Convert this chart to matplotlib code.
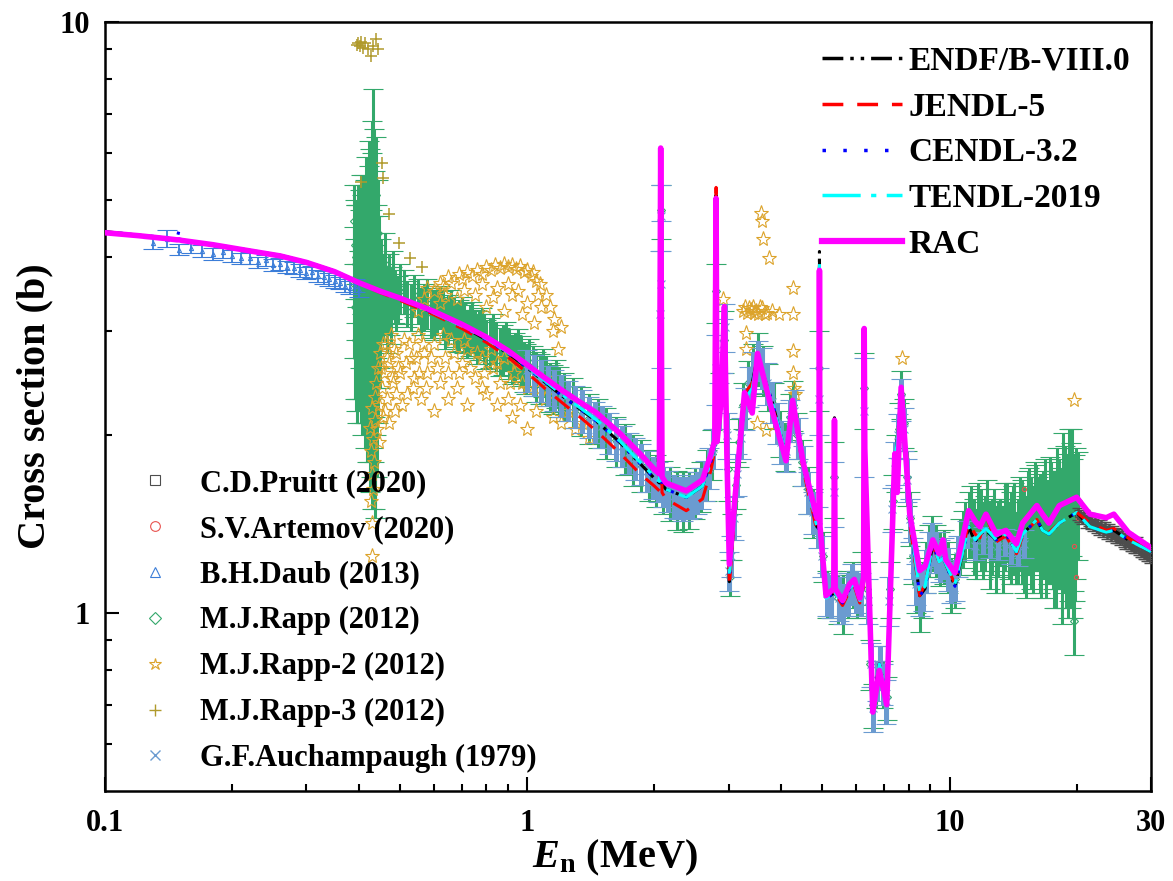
import matplotlib
matplotlib.use('Agg')
import matplotlib.pyplot as plt
from matplotlib.lines import Line2D
from matplotlib.ticker import FixedLocator, FixedFormatter, NullFormatter

plt.rcParams['font.family'] = 'Liberation Serif'
plt.rcParams['font.weight'] = 'bold'
plt.rcParams['mathtext.fontset'] = 'custom'
plt.rcParams['mathtext.rm'] = 'Liberation Serif:bold'
plt.rcParams['mathtext.it'] = 'Liberation Serif:italic:bold'
plt.rcParams['mathtext.bf'] = 'Liberation Serif:bold'

# ---- evaluated cross sections (MeV, b) on a common energy grid ----
e_eval = [0.10, 0.12, 0.14, 0.148, 0.150, 0.152, 0.18, 0.22, 0.26, 0.30,
          0.35, 0.40, 0.45, 0.50, 0.60, 0.70, 0.80, 0.90, 1.00, 1.10,
          1.20, 1.35, 1.46, 1.65, 1.85, 2.00, 2.055, 2.07, 2.085, 2.13,
          2.38, 2.60, 2.72, 2.78, 2.80, 2.815, 2.88, 2.93, 2.97, 3.01,
          3.10, 3.27, 3.41, 3.51, 3.80, 4.10, 4.25, 4.50, 4.85, 4.905,
          4.92, 4.935, 5.10, 5.32, 5.34, 5.36, 5.58, 5.80, 5.95, 6.13,
          6.26, 6.28, 6.30, 6.58, 6.82, 7.10, 7.42, 7.52, 7.68, 8.05,
          8.50, 8.75, 9.13, 9.45, 9.65, 9.80, 10.3, 11.1, 11.5, 11.8,
          12.2, 12.9, 13.6, 14.4, 14.9, 16.1, 16.6, 17.2, 18.2, 20.0,
          21.5, 23.5, 24.5, 26.5, 30.0]

rac = [4.40, 4.35, 4.30, 4.28, 4.28, 4.27, 4.20, 4.10, 4.02, 3.92,
       3.78, 3.62, 3.50, 3.41, 3.24, 3.08, 2.93, 2.78, 2.63, 2.50,
       2.39, 2.26, 2.18, 2.02, 1.86, 1.75, 1.72, 6.12, 1.70, 1.66,
       1.61, 1.68, 1.85, 1.96, 5.03, 1.95, 2.30, 3.30, 1.85, 1.21,
       1.55, 2.36, 2.18, 2.75, 2.20, 1.81, 2.29, 1.80, 1.45, 1.44,
       3.80, 1.40, 1.07, 1.10, 2.12, 1.10, 1.05, 1.12, 1.14, 1.06,
       1.15, 3.03, 1.90, 0.68, 0.80, 0.70, 1.86, 1.60, 2.41, 1.47,
       1.18, 1.20, 1.33, 1.26, 1.33, 1.23, 1.17, 1.49, 1.43, 1.40,
       1.47, 1.36, 1.38, 1.31, 1.42, 1.52, 1.47, 1.42, 1.52, 1.57,
       1.47, 1.45, 1.47, 1.37, 1.29]

endf = [4.42, 4.36, 4.31, 4.29, 4.29, 4.28, 4.20, 4.11, 4.03, 3.93,
        3.79, 3.63, 3.50, 3.40, 3.22, 3.06, 2.90, 2.75, 2.60, 2.46,
        2.34, 2.20, 2.11, 1.95, 1.79, 1.69, 1.66, 6.05, 1.65, 1.62,
        1.57, 1.64, 1.80, 1.92, 5.10, 1.95, 2.30, 3.25, 1.80, 1.13,
        1.50, 2.30, 2.45, 2.72, 2.28, 1.85, 2.27, 1.78, 1.40, 1.39,
        4.09, 1.36, 1.06, 1.08, 2.14, 1.08, 1.04, 1.10, 1.12, 1.05,
        1.12, 2.95, 1.85, 0.70, 0.82, 0.72, 1.80, 1.95, 2.38, 1.45,
        1.07, 1.10, 1.31, 1.22, 1.24, 1.21, 1.11, 1.40, 1.32, 1.36,
        1.38, 1.33, 1.36, 1.27, 1.36, 1.44, 1.38, 1.36, 1.42, 1.48,
        1.40, 1.37, 1.38, 1.33, 1.27]

jendl = [4.41, 4.35, 4.30, 4.28, 4.28, 4.27, 4.19, 4.10, 4.02, 3.92,
         3.78, 3.61, 3.48, 3.38, 3.20, 3.03, 2.87, 2.71, 2.55, 2.40,
         2.28, 2.13, 2.03, 1.87, 1.72, 1.64, 1.61, 5.90, 1.60, 1.56,
         1.49, 1.56, 1.74, 1.88, 5.25, 1.95, 2.28, 3.20, 1.78, 1.11,
         1.48, 2.35, 2.45, 2.70, 2.25, 1.84, 2.27, 1.75, 1.38, 1.37,
         3.90, 1.35, 1.05, 1.08, 2.05, 1.08, 1.03, 1.09, 1.11, 1.04,
         1.11, 2.90, 1.82, 0.70, 0.82, 0.72, 1.78, 1.95, 2.36, 1.42,
         1.07, 1.12, 1.30, 1.22, 1.24, 1.21, 1.12, 1.42, 1.36, 1.34,
         1.46, 1.32, 1.35, 1.26, 1.35, 1.44, 1.38, 1.37, 1.42, 1.48,
         1.42, 1.38, 1.39, 1.34, 1.27]

cendl = [4.42, 4.36, 4.32, 4.30, 4.46, 4.28, 4.21, 4.11, 4.03, 3.92,
         3.79, 3.63, 3.50, 3.40, 3.22, 3.06, 2.90, 2.75, 2.60, 2.46,
         2.34, 2.20, 2.11, 1.95, 1.79, 1.69, 1.66, 6.00, 1.65, 1.62,
         1.57, 1.64, 1.80, 1.92, 5.05, 1.95, 2.30, 3.25, 1.80, 1.14,
         1.50, 2.30, 2.40, 2.72, 2.28, 1.85, 2.27, 1.78, 1.40, 1.39,
         3.95, 1.36, 1.06, 1.08, 2.08, 1.08, 1.04, 1.10, 1.12, 1.05,
         1.12, 2.95, 1.85, 0.70, 0.82, 0.72, 1.80, 1.95, 2.38, 1.45,
         1.07, 1.10, 1.31, 1.22, 1.24, 1.21, 1.11, 1.40, 1.33, 1.36,
         1.39, 1.33, 1.36, 1.27, 1.36, 1.44, 1.38, 1.36, 1.42, 1.48,
         1.40, 1.37, 1.38, 1.33, 1.27]

tendl = [4.41, 4.35, 4.31, 4.29, 4.29, 4.28, 4.20, 4.10, 4.02, 3.92,
         3.78, 3.62, 3.50, 3.40, 3.22, 3.06, 2.91, 2.76, 2.61, 2.47,
         2.35, 2.21, 2.12, 1.96, 1.80, 1.70, 1.67, 5.95, 1.65, 1.62,
         1.57, 1.64, 1.80, 1.92, 5.00, 1.95, 2.30, 3.25, 1.80, 1.15,
         1.50, 2.30, 2.40, 2.72, 2.28, 1.85, 2.27, 1.78, 1.40, 1.39,
         3.90, 1.36, 1.06, 1.08, 2.05, 1.08, 1.04, 1.10, 1.12, 1.05,
         1.12, 2.90, 1.82, 0.70, 0.82, 0.72, 1.80, 1.95, 2.38, 1.45,
         1.08, 1.11, 1.31, 1.22, 1.24, 1.21, 1.12, 1.40, 1.33, 1.36,
         1.39, 1.33, 1.36, 1.27, 1.36, 1.44, 1.38, 1.36, 1.42, 1.48,
         1.40, 1.37, 1.38, 1.33, 1.27]

# ---- measurements: (E, sigma, d_sigma) ----
rapp = [
    # 0.43 MeV resonance region
    (0.388, 3.60, 0.90), (0.389, 4.60, 0.70), (0.390, 4.20, 0.80), (0.391, 3.30, 1.00),
    (0.392, 2.90, 0.70), (0.393, 4.00, 0.90), (0.394, 3.90, 1.00), (0.395, 2.70, 0.60),
    (0.396, 3.10, 0.80), (0.397, 3.80, 1.10), (0.398, 4.50, 0.80), (0.399, 3.20, 0.90),
    (0.400, 2.80, 0.60), (0.401, 4.30, 0.90), (0.402, 3.70, 1.10), (0.403, 2.90, 0.80),
    (0.404, 4.80, 0.70), (0.405, 4.10, 1.00), (0.406, 2.60, 0.60), (0.407, 3.30, 1.00),
    (0.408, 3.50, 0.90), (0.409, 4.40, 0.80), (0.410, 4.90, 0.60), (0.411, 3.00, 0.90),
    (0.412, 2.40, 0.50), (0.413, 4.60, 0.80), (0.414, 3.80, 1.00), (0.415, 2.80, 0.70),
    (0.416, 5.20, 0.70), (0.417, 4.20, 1.10), (0.418, 2.30, 0.50), (0.419, 3.10, 1.00),
    (0.420, 4.10, 1.20), (0.421, 4.70, 1.00), (0.422, 5.40, 0.90), (0.423, 2.60, 0.80),
    (0.424, 2.10, 0.50), (0.425, 4.90, 1.20), (0.426, 3.60, 1.30), (0.427, 2.40, 0.70),
    (0.428, 5.80, 1.00), (0.429, 4.50, 1.50), (0.430, 1.95, 0.45), (0.431, 3.30, 1.40),
    (0.432, 6.20, 1.50), (0.433, 5.40, 1.20), (0.434, 3.00, 1.20), (0.435, 2.30, 0.80),
    (0.436, 1.80, 0.35), (0.437, 4.20, 1.40), (0.438, 5.10, 1.30), (0.439, 3.00, 1.00),
    (0.440, 2.50, 0.80), (0.441, 3.80, 1.10), (0.442, 4.40, 1.00), (0.443, 2.80, 0.70),
    (0.444, 3.20, 0.80), (0.445, 3.60, 0.80), (0.446, 4.00, 0.70), (0.447, 3.20, 0.60),
    (0.448, 2.90, 0.50), (0.450, 3.70, 0.60), (0.452, 3.50, 0.50), (0.455, 3.30, 0.40),
    (0.457, 3.60, 0.45), (0.460, 3.90, 0.50), (0.462, 3.40, 0.45), (0.465, 3.10, 0.35),
    (0.467, 3.45, 0.40), (0.470, 3.60, 0.45), (0.472, 3.35, 0.40), (0.475, 3.20, 0.35),
    (0.478, 3.50, 0.35), (0.480, 3.70, 0.40), (0.485, 3.45, 0.35), (0.490, 3.30, 0.30),
    (0.495, 3.40, 0.32), (0.500, 3.55, 0.35),
    # 0.5 - 1.2 MeV
    (0.51, 3.50, 0.30), (0.52, 3.35, 0.30), (0.53, 3.30, 0.30), (0.54, 3.45, 0.28),
    (0.55, 3.38, 0.30), (0.56, 3.25, 0.30), (0.57, 3.30, 0.30), (0.58, 3.35, 0.32),
    (0.59, 3.22, 0.30), (0.60, 3.20, 0.30), (0.61, 3.25, 0.30), (0.62, 3.30, 0.28),
    (0.63, 3.20, 0.30), (0.64, 3.10, 0.30), (0.65, 3.15, 0.30), (0.66, 3.22, 0.30),
    (0.67, 3.12, 0.30), (0.68, 3.05, 0.28), (0.69, 3.08, 0.30), (0.70, 3.12, 0.30),
    (0.71, 3.05, 0.30), (0.72, 2.98, 0.28), (0.73, 3.02, 0.30), (0.74, 3.06, 0.30),
    (0.75, 2.98, 0.28), (0.76, 2.92, 0.28), (0.77, 2.96, 0.28), (0.78, 3.00, 0.28),
    (0.79, 2.92, 0.28), (0.80, 2.86, 0.27), (0.815, 2.88, 0.28), (0.83, 2.93, 0.28),
    (0.845, 2.84, 0.27), (0.86, 2.78, 0.26), (0.875, 2.80, 0.27), (0.89, 2.84, 0.27),
    (0.905, 2.76, 0.27), (0.92, 2.70, 0.26), (0.935, 2.72, 0.26), (0.95, 2.76, 0.26),
    (0.965, 2.68, 0.26), (0.98, 2.62, 0.25), (0.995, 2.60, 0.25), (1.01, 2.66, 0.25),
    (1.03, 2.58, 0.25), (1.05, 2.52, 0.24), (1.07, 2.50, 0.24), (1.09, 2.56, 0.24),
    (1.11, 2.48, 0.24), (1.13, 2.42, 0.23), (1.15, 2.40, 0.23), (1.17, 2.45, 0.23),
    (1.19, 2.38, 0.23),
    # 1.2 - 10.5 MeV
    (1.22, 2.33, 0.22), (1.28, 2.28, 0.22), (1.34, 2.20, 0.21), (1.40, 2.14, 0.21),
    (1.47, 2.10, 0.20), (1.54, 2.02, 0.20), (1.62, 1.96, 0.19), (1.70, 1.90, 0.19),
    (1.78, 1.82, 0.18), (1.86, 1.78, 0.18), (1.94, 1.72, 0.17), (2.02, 1.68, 0.17),
    (2.07, 4.80, 0.50), (2.10, 1.64, 0.17), (2.18, 1.60, 0.17), (2.26, 1.56, 0.18),
    (2.34, 1.55, 0.18), (2.42, 1.56, 0.17), (2.50, 1.60, 0.16), (2.58, 1.64, 0.16),
    (2.66, 1.72, 0.17), (2.74, 1.86, 0.18), (2.80, 3.50, 0.40), (2.86, 2.30, 0.25),
    (2.92, 2.90, 0.35), (2.98, 1.75, 0.20), (3.02, 1.15, 0.08), (3.06, 1.35, 0.12),
    (3.12, 1.65, 0.15), (3.18, 1.95, 0.18), (3.25, 2.25, 0.20), (3.33, 2.45, 0.22),
    (3.42, 2.60, 0.25), (3.52, 2.70, 0.28), (3.62, 2.58, 0.25), (3.72, 2.42, 0.22),
    (3.84, 2.25, 0.20), (3.96, 2.02, 0.18), (4.08, 1.92, 0.18), (4.18, 2.15, 0.20),
    (4.26, 2.25, 0.22), (4.36, 2.00, 0.18), (4.48, 1.80, 0.16), (4.62, 1.62, 0.15),
    (4.76, 1.48, 0.14), (4.92, 2.60, 0.40), (5.02, 1.25, 0.12), (5.14, 1.08, 0.10),
    (5.26, 1.08, 0.10), (5.34, 1.70, 0.25), (5.45, 1.06, 0.10), (5.60, 1.04, 0.12),
    (5.75, 1.08, 0.10), (5.90, 1.12, 0.10), (6.05, 1.08, 0.10), (6.20, 1.15, 0.12),
    (6.28, 2.40, 0.35), (6.38, 1.10, 0.12), (6.48, 0.82, 0.08), (6.58, 0.70, 0.06),
    (6.70, 0.76, 0.07), (6.82, 0.81, 0.07), (6.95, 0.76, 0.07), (7.10, 0.72, 0.06),
    (7.22, 1.10, 0.12), (7.34, 1.55, 0.16), (7.46, 1.80, 0.20), (7.58, 2.05, 0.22),
    (7.68, 2.35, 0.22), (7.80, 2.10, 0.20), (7.92, 1.70, 0.18), (8.05, 1.45, 0.15),
    (8.20, 1.25, 0.13), (8.35, 1.12, 0.12), (8.50, 1.07, 0.14), (8.65, 1.10, 0.12),
    (8.80, 1.20, 0.12), (8.95, 1.28, 0.13), (9.10, 1.32, 0.14), (9.30, 1.28, 0.13),
    (9.50, 1.24, 0.13), (9.70, 1.25, 0.13), (9.90, 1.20, 0.12), (10.1, 1.12, 0.12),
    (10.3, 1.14, 0.12),
    # 10.5 - 20 MeV
    (10.6, 1.30, 0.14), (10.75, 1.34, 0.15), (10.9, 1.38, 0.16), (11.1, 1.42, 0.18),
    (11.25, 1.44, 0.20), (11.4, 1.36, 0.20), (11.55, 1.32, 0.18), (11.7, 1.44, 0.22),
    (11.85, 1.40, 0.22), (12.0, 1.34, 0.20), (12.15, 1.38, 0.20), (12.3, 1.46, 0.22),
    (12.45, 1.32, 0.22), (12.6, 1.36, 0.20), (12.75, 1.42, 0.20), (12.9, 1.30, 0.22),
    (13.05, 1.35, 0.20), (13.2, 1.38, 0.18), (13.35, 1.30, 0.22), (13.5, 1.42, 0.24),
    (13.65, 1.44, 0.22), (13.8, 1.34, 0.20), (13.95, 1.36, 0.24), (14.1, 1.40, 0.24),
    (14.25, 1.42, 0.24), (14.4, 1.30, 0.18), (14.55, 1.34, 0.22), (14.7, 1.44, 0.26),
    (14.85, 1.40, 0.28), (15.0, 1.36, 0.28), (15.15, 1.32, 0.26), (15.3, 1.50, 0.24),
    (15.45, 1.46, 0.30), (15.6, 1.40, 0.30), (15.75, 1.36, 0.28), (15.9, 1.52, 0.28),
    (16.05, 1.48, 0.30), (16.2, 1.44, 0.26), (16.35, 1.40, 0.32), (16.5, 1.36, 0.30),
    (16.65, 1.44, 0.30), (16.8, 1.50, 0.32), (16.95, 1.36, 0.30), (17.1, 1.40, 0.28),
    (17.25, 1.50, 0.34), (17.4, 1.46, 0.34), (17.55, 1.42, 0.32), (17.7, 1.34, 0.32),
    (17.85, 1.38, 0.36), (18.0, 1.52, 0.38), (18.15, 1.46, 0.36), (18.3, 1.42, 0.32),
    (18.45, 1.36, 0.40), (18.6, 1.60, 0.42), (18.75, 1.50, 0.42), (18.9, 1.38, 0.36),
    (19.05, 1.42, 0.44), (19.2, 1.55, 0.50), (19.35, 1.48, 0.46), (19.5, 1.65, 0.40),
    (19.65, 1.40, 0.42), (19.7, 0.97, 0.12), (19.8, 1.45, 0.40), (19.95, 1.52, 0.38),
    (20.1, 1.55, 0.32),
]

auchampaugh = [
    (1.00, 2.58, 0.21), (1.04, 2.53, 0.20), (1.08, 2.48, 0.20), (1.12, 2.43, 0.19),
    (1.16, 2.39, 0.19), (1.20, 2.34, 0.19), (1.25, 2.29, 0.18), (1.30, 2.24, 0.18),
    (1.35, 2.20, 0.18), (1.40, 2.15, 0.17), (1.45, 2.11, 0.17), (1.50, 2.07, 0.17),
    (1.56, 2.02, 0.16), (1.62, 1.97, 0.16), (1.68, 1.92, 0.15), (1.74, 1.87, 0.15),
    (1.80, 1.83, 0.15), (1.86, 1.79, 0.14), (1.92, 1.74, 0.14), (1.98, 1.70, 0.14),
    (2.04, 1.67, 0.13), (2.064, 3.20, 0.90), (2.07, 4.70, 0.60), (2.076, 3.60, 1.00),
    (2.10, 1.64, 0.13), (2.16, 1.61, 0.13),
    (2.22, 1.58, 0.13), (2.28, 1.57, 0.13), (2.34, 1.56, 0.13), (2.40, 1.57, 0.13),
    (2.46, 1.58, 0.13), (2.52, 1.60, 0.13), (2.58, 1.63, 0.13), (2.64, 1.68, 0.13),
    (2.70, 1.76, 0.14), (2.76, 1.90, 0.15), (2.80, 2.60, 0.35), (2.84, 2.25, 0.20),
    (2.90, 2.85, 0.30), (2.94, 3.05, 0.28), (2.97, 2.00, 0.18), (3.00, 1.18, 0.09),
    (3.03, 1.25, 0.10), (3.08, 1.45, 0.12), (3.14, 1.72, 0.14), (3.20, 1.98, 0.16),
    (3.27, 2.22, 0.18), (3.35, 2.42, 0.19), (3.43, 2.56, 0.20), (3.51, 2.68, 0.21),
    (3.60, 2.60, 0.21), (3.70, 2.45, 0.20), (3.80, 2.28, 0.18), (3.90, 2.10, 0.17),
    (4.00, 1.95, 0.16), (4.10, 1.88, 0.15), (4.20, 2.12, 0.17), (4.28, 2.20, 0.18),
    (4.38, 1.98, 0.16), (4.50, 1.78, 0.14), (4.62, 1.60, 0.13), (4.75, 1.48, 0.12),
    (4.88, 1.40, 0.11), (4.92, 2.30, 0.30), (5.00, 1.25, 0.10), (5.12, 1.08, 0.09),
    (5.24, 1.07, 0.09), (5.34, 1.60, 0.20), (5.46, 1.06, 0.09), (5.60, 1.04, 0.08),
    (5.74, 1.08, 0.09), (5.88, 1.12, 0.09), (6.02, 1.09, 0.09), (6.16, 1.08, 0.09),
    (6.28, 2.20, 0.50), (6.40, 1.05, 0.09), (6.50, 0.82, 0.07), (6.60, 0.69, 0.06),
    (6.72, 0.77, 0.06), (6.84, 0.81, 0.07), (6.96, 0.76, 0.06), (7.08, 0.71, 0.06),
    (7.20, 1.05, 0.10), (7.32, 1.50, 0.13), (7.44, 1.80, 0.15), (7.56, 2.00, 0.17),
    (7.68, 2.30, 0.19), (7.80, 2.05, 0.17), (7.92, 1.68, 0.14), (8.06, 1.44, 0.12),
    (8.20, 1.24, 0.10), (8.35, 1.12, 0.09), (8.50, 1.08, 0.09), (8.65, 1.10, 0.09),
    (8.80, 1.18, 0.10), (8.95, 1.27, 0.10), (9.10, 1.31, 0.11), (9.30, 1.27, 0.10),
    (9.50, 1.23, 0.10), (9.70, 1.24, 0.10), (9.90, 1.19, 0.10), (10.1, 1.13, 0.09),
    (10.3, 1.14, 0.09), (10.5, 1.25, 0.10), (11.0, 1.36, 0.07), (11.5, 1.30, 0.07),
    (12.0, 1.33, 0.07), (12.5, 1.31, 0.07), (13.0, 1.30, 0.07), (13.5, 1.32, 0.07),
    (14.0, 1.28, 0.07), (14.5, 1.27, 0.07), (15.0, 1.31, 0.07),
]

daub = [
    (0.130, 4.22, 0.09), (0.140, 4.30, 0.14), (0.150, 4.12, 0.09), (0.160, 4.15, 0.09),
    (0.170, 4.10, 0.09), (0.180, 4.05, 0.09), (0.190, 4.08, 0.09), (0.200, 4.02, 0.09),
    (0.210, 3.98, 0.09), (0.220, 3.99, 0.09), (0.230, 3.92, 0.09), (0.240, 3.95, 0.09),
    (0.250, 3.88, 0.09), (0.260, 3.90, 0.09), (0.270, 3.85, 0.09), (0.280, 3.84, 0.09),
    (0.290, 3.80, 0.09), (0.300, 3.76, 0.09), (0.310, 3.78, 0.09), (0.320, 3.72, 0.09),
    (0.330, 3.70, 0.09), (0.340, 3.67, 0.09), (0.350, 3.64, 0.09), (0.360, 3.62, 0.09),
    (0.370, 3.58, 0.09), (0.380, 3.55, 0.09), (0.390, 3.58, 0.09), (0.400, 3.52, 0.09),
]

rapp2 = [
    # column under the 0.43 MeV resonance
    (0.428, 1.25), (0.430, 1.42), (0.426, 1.55), (0.432, 1.62), (0.429, 1.72),
    (0.433, 1.80), (0.427, 1.88), (0.431, 1.97), (0.425, 2.06), (0.435, 2.12),
    (0.428, 2.22), (0.436, 2.32), (0.438, 2.45), (0.441, 2.05), (0.443, 2.60),
    (0.445, 1.95), (0.446, 2.25), (0.448, 2.75), (0.450, 2.60), (0.452, 2.40),
    # lower cloud
    (0.455, 2.15), (0.455, 2.85), (0.458, 2.55), (0.460, 2.20), (0.462, 2.85),
    (0.465, 2.70), (0.466, 2.30), (0.470, 2.65), (0.470, 2.10), (0.475, 2.95),
    (0.478, 2.50), (0.480, 2.45), (0.483, 2.80), (0.485, 2.20), (0.488, 2.35),
    (0.490, 2.75), (0.495, 2.60), (0.500, 2.55), (0.505, 2.25), (0.510, 2.90),
    (0.515, 2.65), (0.520, 2.35), (0.525, 2.85), (0.530, 2.70), (0.535, 2.40),
    (0.540, 2.50), (0.545, 2.70), (0.550, 2.95), (0.555, 2.55), (0.560, 2.30),
    (0.565, 2.85), (0.570, 2.75), (0.575, 2.40), (0.580, 2.55), (0.590, 2.70),
    (0.600, 2.85), (0.600, 2.20), (0.610, 2.60), (0.620, 2.45), (0.630, 2.95),
    (0.640, 2.70), (0.650, 2.55), (0.650, 2.30), (0.660, 2.90), (0.670, 2.75),
    (0.680, 2.40), (0.690, 2.55), (0.700, 2.65), (0.710, 2.90), (0.720, 2.80),
    (0.720, 2.25), (0.730, 2.60), (0.750, 2.50), (0.760, 2.75), (0.780, 2.70),
    (0.780, 2.40), (0.790, 2.55), (0.800, 2.35), (0.820, 2.80), (0.830, 2.60),
    (0.850, 2.65), (0.850, 2.25), (0.860, 2.45), (0.880, 2.70), (0.900, 2.30),
    (0.910, 2.45), (0.920, 2.15), (0.930, 2.55), (0.940, 2.65), (0.960, 2.25),
    (0.970, 2.45), (1.000, 2.40), (1.000, 2.05), (1.020, 2.55), (1.050, 2.20),
    (1.070, 2.40), (1.100, 2.30), (1.120, 2.50), (1.150, 2.15), (1.170, 2.35),
    (1.200, 2.10), (1.250, 2.20), (1.300, 2.05), (1.350, 2.10), (1.400, 1.98),
    # upper branch
    (0.570, 3.40), (0.580, 3.55), (0.600, 3.50), (0.620, 3.62), (0.630, 3.58),
    (0.650, 3.70), (0.660, 3.62), (0.690, 3.74), (0.700, 3.68), (0.720, 3.78),
    (0.740, 3.72), (0.760, 3.80), (0.780, 3.75), (0.800, 3.85), (0.820, 3.80),
    (0.840, 3.88), (0.860, 3.83), (0.880, 3.90), (0.900, 3.85), (0.920, 3.88),
    (0.940, 3.82), (0.960, 3.86), (0.980, 3.78), (1.000, 3.80), (1.020, 3.72),
    (1.030, 3.78), (1.050, 3.65), (1.070, 3.60),
    (0.550, 3.25), (0.620, 3.35), (0.640, 3.45), (0.680, 3.40), (0.710, 3.52),
    (0.750, 3.45), (0.780, 3.60), (0.800, 3.30), (0.830, 3.42), (0.850, 3.55),
    (0.880, 3.25), (0.900, 3.60), (0.920, 3.45), (0.950, 3.50), (0.970, 3.20),
    (1.000, 3.35), (1.040, 3.10), (1.060, 3.45), (1.080, 3.30), (1.110, 3.45),
    (1.130, 3.30), (1.150, 3.00), (1.160, 3.15), (1.180, 2.80), (1.200, 3.05),
    # above 2.8 MeV
    (2.90, 3.40), (3.58, 4.75), (3.59, 4.60), (3.62, 4.30), (3.74, 3.98),
    (3.25, 3.25), (3.28, 3.30), (3.32, 3.22), (3.35, 3.28), (3.38, 3.26),
    (3.42, 3.30), (3.45, 3.22), (3.48, 3.24), (3.52, 3.20), (3.55, 3.30),
    (3.60, 3.28), (3.65, 3.20), (3.70, 3.22), (3.80, 3.25), (3.95, 3.20),
    (4.25, 3.55), (4.25, 3.20), (4.25, 2.78), (4.26, 2.55), (4.28, 2.40),
    (4.30, 2.35), (3.30, 2.98), (3.30, 2.80), (3.67, 2.04), (3.50, 2.10),
    (7.70, 2.70), (19.7, 2.29),
]

rapp3 = [
    (0.395, 9.15), (0.398, 9.20), (0.401, 9.10), (0.404, 9.25), (0.408, 9.05),
    (0.412, 9.20), (0.420, 9.00), (0.426, 8.75), (0.432, 9.10), (0.438, 9.35),
    (0.444, 9.00), (0.404, 5.36), (0.453, 5.77), (0.455, 5.44), (0.470, 4.74),
    (0.497, 4.22), (0.528, 3.99), (0.564, 3.85),
]

pruitt = [
    (20.10, 1.47), (20.35, 1.46), (20.60, 1.45), (20.85, 1.46), (21.10, 1.43),
    (21.35, 1.44), (21.60, 1.42), (21.85, 1.41), (22.10, 1.42), (22.35, 1.40),
    (22.60, 1.39), (22.85, 1.40), (23.10, 1.38), (23.35, 1.39), (23.60, 1.37),
    (23.85, 1.38), (24.10, 1.36), (24.35, 1.37), (24.60, 1.36), (24.85, 1.35),
    (25.10, 1.35), (25.35, 1.34), (25.60, 1.35), (25.85, 1.33), (26.10, 1.32),
    (26.35, 1.33), (26.60, 1.32), (26.85, 1.31), (27.10, 1.31), (27.35, 1.30),
    (27.60, 1.30), (27.85, 1.31), (28.10, 1.29), (28.35, 1.28), (28.60, 1.28),
    (28.85, 1.27), (29.10, 1.27), (29.35, 1.26), (29.60, 1.26), (29.85, 1.25),
]

artemov = [(15.0, 1.62), (19.7, 1.30), (19.9, 1.15), (20.1, 1.45)]

c_green = '#33a86b'
c_steel = '#6b9bd0'
c_blue = '#3b7dd8'
c_gold = '#dca32a'
c_olive = '#b09a2c'
c_gray = '#4d4d4d'
c_red = '#e8534f'

fig = plt.figure(figsize=(11.73, 8.81), dpi=100)
ax = fig.add_axes([105 / 1173, 1 - 791 / 881, 1046 / 1173, 769 / 881])


def bars(pts, color, marker, ms, cap, elw, z):
    e, s, d = zip(*pts)
    ax.errorbar(e, s, yerr=d, fmt=marker, ms=ms, mfc='none', mec=color, mew=0.8,
                ecolor=color, elinewidth=elw, capsize=cap, capthick=1.2, zorder=z)


# experimental data
bars(rapp, c_green, 'D', 4, 7, 2.2, 2)
e2, s2 = zip(*rapp2)
ax.plot(e2, s2, ls='none', marker='*', ms=11, mfc='none', mec=c_gold, mew=0.8, zorder=2.5)
bars(auchampaugh, c_steel, 'x', 6, 7, 3.6, 3)
bars(daub, c_blue, '^', 3, 7, 1.3, 3)
e3, s3 = zip(*rapp3)
ax.plot(e3, s3, ls='none', marker='+', ms=9, mec=c_olive, mew=1.1, zorder=3)
ep, sp = zip(*pruitt)
ax.errorbar(ep, sp, yerr=0.035, fmt='s', ms=4, mfc='none', mec=c_gray, mew=1.0,
            ecolor=c_gray, elinewidth=1.8, capsize=4, capthick=1.2, zorder=3)
ea, sa = zip(*artemov)
ax.plot(ea, sa, ls='none', marker='o', ms=3, mfc='none', mec=c_red, mew=0.8, zorder=3)

# evaluations
ax.plot(e_eval, endf, color='black', lw=2.2, dashes=(6, 2, 1, 2, 1, 2), zorder=5)
ax.plot(e_eval, jendl, color='red', lw=2.2, dashes=(6, 4), zorder=5)
ax.plot(e_eval, cendl, color='blue', lw=2.2, dashes=(1, 4), zorder=5)
ax.plot(e_eval, tendl, color='cyan', lw=2.2, dashes=(11, 3, 1.5, 3), zorder=5)
ax.plot(e_eval, rac, color='#ff00ff', lw=4, solid_joinstyle='round', zorder=6)

ax.set_xscale('log')
ax.set_yscale('log')
ax.set_xlim(0.1, 30)
ax.set_ylim(0.5, 10)

ax.xaxis.set_major_locator(FixedLocator([0.1, 1, 10, 30]))
ax.xaxis.set_major_formatter(FixedFormatter(['0.1', '1', '10', '30']))
ax.xaxis.set_minor_locator(FixedLocator([0.2, 0.3, 0.4, 0.5, 0.6, 0.7, 0.8, 0.9,
                                         2, 3, 4, 5, 6, 7, 8, 9, 20]))
ax.xaxis.set_minor_formatter(NullFormatter())
ax.yaxis.set_major_locator(FixedLocator([1, 10]))
ax.yaxis.set_major_formatter(FixedFormatter(['1', '10']))
ax.yaxis.set_minor_locator(FixedLocator([0.6, 0.7, 0.8, 0.9, 2, 3, 4, 5, 6, 7, 8, 9]))
ax.yaxis.set_minor_formatter(NullFormatter())

ax.tick_params(which='both', direction='in', top=False, right=False, width=1.5, labelsize=22)
ax.tick_params(which='major', length=10)
ax.tick_params(which='minor', length=5)
ax.tick_params(axis='x', pad=13)
ax.tick_params(axis='y', pad=11)
for sp_ in ax.spines.values():
    sp_.set_linewidth(1.8)

fig.text(35 / 1173, 1 - 406 / 881, 'Cross section (b)', rotation=90,
         ha='center', va='center', fontsize=29, fontweight='bold')
fig.text(615 / 1173, 1 - 858 / 881, r'$E_{\mathrm{n}}$ (MeV)',
         ha='center', va='center', fontsize=29, fontweight='bold')

eval_handles = [
    Line2D([], [], color='black', lw=2.5, dashes=(6, 2, 1, 2, 1, 2)),
    Line2D([], [], color='red', lw=2.5, dashes=(6, 4)),
    Line2D([], [], color='blue', lw=2.5, dashes=(1, 5)),
    Line2D([], [], color='cyan', lw=2.5, dashes=(11, 3, 1.5, 3)),
    Line2D([], [], color='#ff00ff', lw=4.5),
]
eval_labels = ['ENDF/B-VIII.0', 'JENDL-5', 'CENDL-3.2', 'TENDL-2019', 'RAC']
fig.legend(eval_handles, eval_labels, loc='upper left', bbox_to_anchor=(822 / 1173, 1 - 46 / 881),
           frameon=False, fontsize=24, handlelength=2.4, handletextpad=0.2,
           labelspacing=0.44, borderpad=0, borderaxespad=0)

exp_handles = [
    Line2D([], [], ls='none', marker='s', ms=7, mfc='none', mec=c_gray, mew=0.8),
    Line2D([], [], ls='none', marker='o', ms=7, mfc='none', mec=c_red, mew=0.8),
    Line2D([], [], ls='none', marker='^', ms=7, mfc='none', mec=c_blue, mew=0.8),
    Line2D([], [], ls='none', marker='D', ms=6, mfc='none', mec=c_green, mew=0.8),
    Line2D([], [], ls='none', marker='*', ms=9, mfc='none', mec=c_gold, mew=0.8),
    Line2D([], [], ls='none', marker='+', ms=8, mec=c_olive, mew=1.0),
    Line2D([], [], ls='none', marker='x', ms=7, mec=c_steel, mew=1.0),
]
exp_labels = ['C.D.Pruitt (2020)', 'S.V.Artemov (2020)', 'B.H.Daub (2013)',
              'M.J.Rapp (2012)', 'M.J.Rapp-2 (2012)', 'M.J.Rapp-3 (2012)',
              'G.F.Auchampaugh (1979)']
fig.legend(exp_handles, exp_labels, loc='upper left', bbox_to_anchor=(140 / 1173, 1 - 469 / 881),
           frameon=False, fontsize=22, handlelength=1.0, handletextpad=0.97,
           labelspacing=0.55, borderpad=0, borderaxespad=0)

fig.savefig('out.png', dpi=100)
